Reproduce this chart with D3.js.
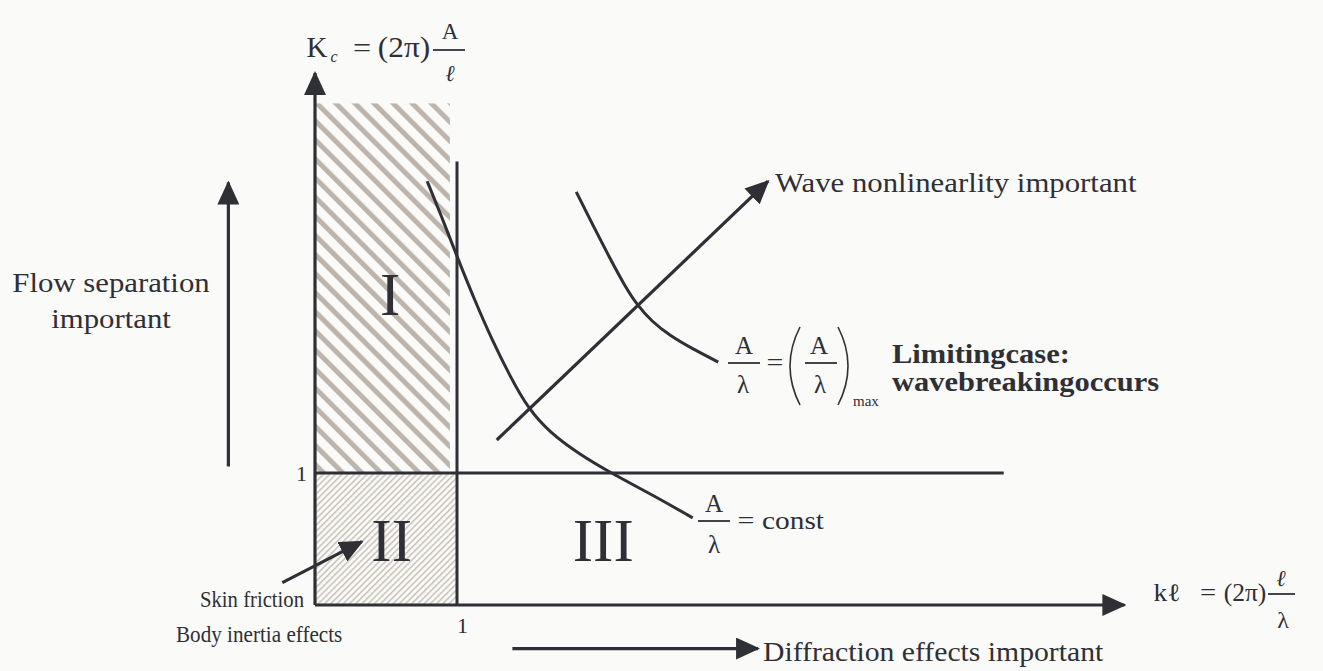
<!DOCTYPE html>
<html>
<head>
<meta charset="utf-8">
<script src="https://cdn.jsdelivr.net/npm/d3@7"></script>
<style>
  body { margin: 0; background: #fafaf8; }
  svg text { font-family: "Liberation Serif", "Times New Roman", "DejaVu Serif", serif; fill: #2f2f36; }
</style>
</head>
<body>
<svg id="chart" width="1323" height="671"></svg>
<script>
// chart values, in units of kl (x) and Kc (y)
var xAxisLine = [[0, 0], [5.7, 0]];
var yAxisLine = [[0, 0], [0, 4.03]];
var tickValues = [1];
var regionI = [0, 0.95, 1, 3.8];   // x0, x1, y0, y1
var regionII = [0, 1, 0, 1];
var dividerV = [[1, 0], [1, 3.36]];
var dividerH = [[0, 1], [4.85, 1]];
var constCurve = [[0.79, 3.21], [0.9, 2.92], [1.0, 2.64], [1.12, 2.32], [1.25, 2.0], [1.38, 1.72],
                  [1.5, 1.49], [1.65, 1.31], [1.85, 1.15], [2.1, 0.99], [2.4, 0.82], [2.66, 0.66]];
var maxCurve = [[1.84, 3.13], [1.96, 2.87], [2.08, 2.62], [2.18, 2.42], [2.27, 2.27], [2.37, 2.15],
                [2.5, 2.04], [2.66, 1.94], [2.84, 1.84]];
var nonlinArrow = [[1.28, 1.25], [3.19, 3.21]];
var guideArrows = [
  [[-0.61, 1.05], [-0.61, 3.2]],    // flow separation
  [[-0.23, 0.17], [0.33, 0.48]],    // skin friction
  [[1.39, -0.33], [3.12, -0.33]]    // diffraction
];
var regionNames = ["I", "II", "III"];
var regionNamePos = [[0.53, 2.2], [0.54, 0.33], [2.03, 0.33]];

var ink = "#2f2f36";
var svg = d3.select("#chart");

var x = d3.scaleLinear().domain([0, 1]).range([315, 457]);
var y = d3.scaleLinear().domain([0, 1]).range([605, 473]);

var line = d3.line()
  .x(function(d) { return x(d[0]); })
  .y(function(d) { return y(d[1]); });
var smooth = d3.line()
  .x(function(d) { return x(d[0]); })
  .y(function(d) { return y(d[1]); })
  .curve(d3.curveBasis);

//////////////////////////////////////////////////////////////////////////////

var defs = svg.append("defs");

defs.append("pattern")
  .attr("id", "hatchI")
  .attr("patternUnits", "userSpaceOnUse")
  .attr("width", 13.5).attr("height", 13.5)
  .attr("patternTransform", "rotate(-45)")
  .append("rect")
  .attr("width", 5).attr("height", 13.5)
  .attr("fill", "#bdb4ab");

defs.append("pattern")
  .attr("id", "hatchII")
  .attr("patternUnits", "userSpaceOnUse")
  .attr("width", 4.4).attr("height", 4.4)
  .attr("patternTransform", "rotate(45)")
  .append("rect")
  .attr("width", 1.6).attr("height", 4.4)
  .attr("fill", "#cbc4bd");

defs.append("marker")
  .attr("id", "head")
  .attr("viewBox", "0 0 24 22")
  .attr("refX", 22).attr("refY", 11)
  .attr("markerWidth", 24).attr("markerHeight", 22)
  .attr("markerUnits", "userSpaceOnUse")
  .attr("orient", "auto")
  .append("path")
  .attr("d", "M0,0L24,11L0,22Z")
  .attr("fill", ink);

//////////////////////////////////////////////////////////////////////////////

// hatched regions
[[regionI, "url(#hatchI)"], [regionII, "url(#hatchII)"]].forEach(function(r) {
  var b = r[0];
  svg.append("rect")
    .attr("x", x(b[0]))
    .attr("y", y(b[3]))
    .attr("width", x(b[1]) - x(b[0]))
    .attr("height", y(b[2]) - y(b[3]))
    .attr("fill", r[1]);
});

// dividers
[dividerV, dividerH].forEach(function(d) {
  svg.append("path").attr("d", line(d))
    .attr("stroke", ink).attr("stroke-width", 3).attr("fill", "none");
});

// curves
[constCurve, maxCurve].forEach(function(d) {
  svg.append("path").attr("d", smooth(d))
    .attr("stroke", ink).attr("stroke-width", 3).attr("fill", "none");
});

// axes and arrows
[xAxisLine, yAxisLine, nonlinArrow].concat(guideArrows).forEach(function(d) {
  svg.append("path").attr("d", line(d))
    .attr("stroke", ink).attr("stroke-width", 3.2).attr("fill", "none")
    .attr("marker-end", "url(#head)");
});

// tick labels
var bottomAxis = svg.append("g")
  .attr("transform", "translate(0," + y(0) + ")")
  .call(d3.axisBottom(x).tickValues(tickValues).tickFormat(d3.format("d")).tickSize(0).tickPadding(12));
var leftAxis = svg.append("g")
  .attr("transform", "translate(" + x(0) + ",0)")
  .call(d3.axisLeft(y).tickValues(tickValues).tickFormat(d3.format("d")).tickSize(0).tickPadding(8));
[bottomAxis, leftAxis].forEach(function(g) {
  g.select(".domain").remove();
  g.attr("font-family", null).attr("font-size", null);
  g.selectAll("text").style("font-size", "22px");
});
bottomAxis.selectAll("text").attr("dx", 5);

// region names
regionNames.forEach(function(n, i) {
  svg.append("text")
    .attr("x", x(regionNamePos[i][0]))
    .attr("y", y(regionNamePos[i][1]))
    .attr("text-anchor", "middle")
    .style("font-size", "61px")
    .text(n);
});

//////////////////////////////////////////////////////////////////////////////

function addText(px, py, str, o) {
  o = o || {};
  return svg.append("text")
    .attr("transform", "translate(" + px + "," + py + ") scale(" + (o.sx || 1) + ",1)")
    .attr("text-anchor", o.anchor || "start")
    .style("font-size", (o.size || 27) + "px")
    .style("font-weight", o.weight || "normal")
    .style("font-style", o.italic ? "italic" : "normal")
    .text(str);
}

function bar(x0, x1, yy) {
  svg.append("line")
    .attr("x1", x0).attr("x2", x1).attr("y1", yy).attr("y2", yy)
    .attr("stroke", ink).attr("stroke-width", 1.8);
}

function paren(px, top, bottom, dir) {
  var mid = (top + bottom) / 2;
  svg.append("path")
    .attr("d", "M" + px + "," + top + "Q" + (px - dir * 20) + "," + mid + " " + px + "," + bottom)
    .attr("stroke", ink).attr("stroke-width", 1.6).attr("fill", "none");
}

// annotations
addText(775, 192, "Wave nonlinearlity important", {sx: 1.14});
addText(111, 292, "Flow separation", {anchor: "middle", sx: 1.14});
addText(111, 328, "important", {anchor: "middle", sx: 1.14});
addText(200, 607, "Skin friction", {size: 23, sx: 0.9});
addText(176, 642, "Body inertia effects", {size: 23, sx: 0.92});
addText(763, 661, "Diffraction effects important", {sx: 1.1});
addText(892, 363, "Limitingcase:", {weight: "bold", sx: 1.13});
addText(892, 391, "wavebreakingoccurs", {weight: "bold", sx: 1.13});

// Kc = (2pi) A / l
addText(317, 57, "K", {anchor: "middle", size: 29});
addText(334, 62, "c", {anchor: "middle", size: 16, italic: true});
addText(362, 57, "=", {anchor: "middle", size: 28, sx: 1.15});
addText(404, 57, "(2π)", {anchor: "middle", size: 29, sx: 1.08});
bar(433, 465, 50);
addText(450, 39, "A", {anchor: "middle", size: 23});
addText(450, 81, "ℓ", {anchor: "middle", size: 23, italic: true});

// kl = (2pi) l / lambda
addText(1167, 601, "kℓ", {anchor: "middle", size: 25, sx: 1.1});
addText(1208, 601, "=", {anchor: "middle", size: 25, sx: 1.15});
addText(1245, 601, "(2π)", {anchor: "middle", size: 25, sx: 1.02});
bar(1268, 1295, 594);
addText(1281, 586, "ℓ", {anchor: "middle", size: 23, italic: true});
addText(1283, 628, "λ", {anchor: "middle", size: 24});

// A / lambda = const
addText(714, 512, "A", {anchor: "middle", size: 25});
bar(698, 730, 521);
addText(714, 553, "λ", {anchor: "middle", size: 25});
addText(746, 529, "=", {anchor: "middle", size: 26, sx: 1.15});
addText(762, 529, "const", {size: 26, sx: 1.13});

// A / lambda = (A / lambda)max
addText(744, 354, "A", {anchor: "middle", size: 25});
bar(728, 760, 363);
addText(743, 393, "λ", {anchor: "middle", size: 25});
addText(775, 371, "=", {anchor: "middle", size: 26, sx: 1.15});
paren(800, 327, 405, 1);
addText(819, 354, "A", {anchor: "middle", size: 25});
bar(805, 837, 363);
addText(820, 393, "λ", {anchor: "middle", size: 25});
paren(838, 327, 405, -1);
addText(853, 406, "max", {size: 15});
</script>
</body>
</html>
